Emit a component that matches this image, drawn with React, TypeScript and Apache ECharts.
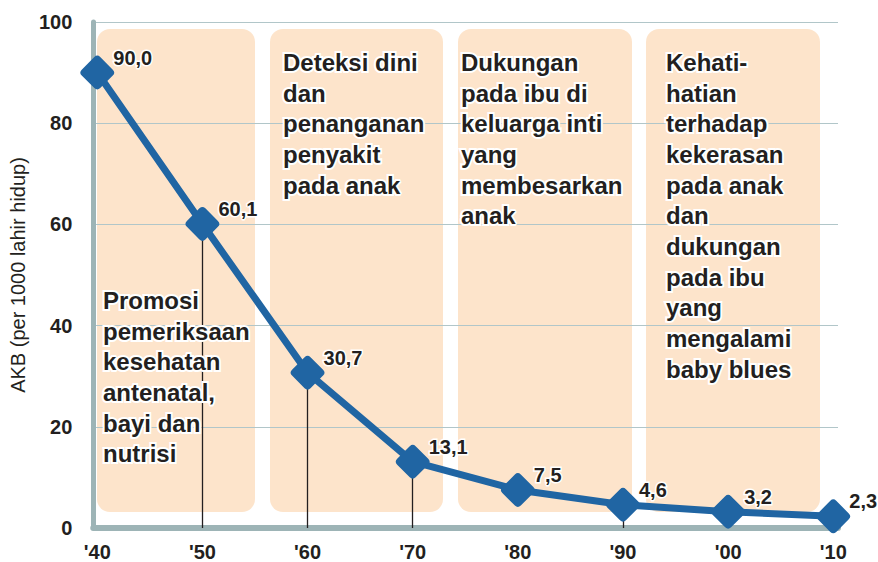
import React, { useEffect, useRef } from "react";
import * as echarts from "echarts";

const years = [1940, 1950, 1960, 1970, 1980, 1990, 2000, 2010];
const akb = [90.0, 60.1, 30.7, 13.1, 7.5, 4.6, 3.2, 2.3];
const xTickLabels = ["'40", "'50", "'60", "'70", "'80", "'90", "'00", "'10"];
const yTicks = [0, 20, 40, 60, 80, 100];
const dropYears = [1950, 1960, 1970, 1990];
const yAxisName = "AKB (per 1000 lahir hidup)";

const panelTexts = [
  "Promosi\npemeriksaan\nkesehatan\nantenatal,\nbayi dan\nnutrisi",
  "Deteksi dini\ndan\npenanganan\npenyakit\npada anak",
  "Dukungan\npada ibu di\nkeluarga inti\nyang\nmembesarkan\nanak",
  "Kehati-\nhatian\nterhadap\nkekerasan\npada anak\ndan\ndukungan\npada ibu\nyang\nmengalami\nbaby blues",
];

const FONT = "Liberation Sans, Arial, sans-serif";
const TEXT = "#231f20";
const BLUE = "#2065a3";
const AXIS = "#9db4b6";
const GRID = "#b1c6c9";
const PANEL = "#fde4cb";

// layout of the decorative panels (pixels)
const panelBoxes = [
  { x: 97, w: 158 },
  { x: 270, w: 173 },
  { x: 458, w: 174 },
  { x: 646, w: 174 },
];
const panelTextPos = [
  { x: 103, y: 285 },
  { x: 283, y: 47 },
  { x: 461, y: 47 },
  { x: 666, y: 47 },
];

const diamond =
  "path://M42 8 Q50 0 58 8 L92 42 Q100 50 92 58 L58 92 Q50 100 42 92 L8 58 Q0 50 8 42 Z";

export default function App() {
  const ref = useRef<HTMLDivElement>(null);
  useEffect(() => {
    if (!ref.current) return;
    const chart = echarts.init(ref.current, undefined, { renderer: "svg" });
    const graphic: any[] = [];
    panelBoxes.forEach((p) => {
      graphic.push({
        type: "rect",
        z: -5,
        silent: true,
        shape: { x: p.x, y: 29, width: p.w, height: 483, r: 13 },
        style: { fill: PANEL },
      });
    });
    panelTexts.forEach((t, i) => {
      graphic.push({
        type: "text",
        z: 50,
        silent: true,
        x: panelTextPos[i].x,
        y: panelTextPos[i].y,
        style: {
          text: t,
          fill: TEXT,
          stroke: "#ffffff",
          lineWidth: 4,
          fontSize: 24,
          fontWeight: "bold",
          fontFamily: FONT,
          lineHeight: 30.7,
          verticalAlign: "top",
          align: "left",
        },
      });
    });
    chart.setOption({
      animation: false,
      backgroundColor: "#ffffff",
      grid: { left: 93, right: 40, top: 22, bottom: 33, containLabel: false },
      graphic,
      xAxis: {
        type: "value",
        min: 1939.62,
        max: 2010.45,
        axisLine: { show: true, lineStyle: { color: AXIS, width: 6 } },
        axisTick: { show: false },
        splitLine: { show: false },
        axisLabel: {
          customValues: years,
          formatter: (v: number) => xTickLabels[years.indexOf(Math.round(v))] ?? "",
          color: TEXT,
          fontSize: 20,
          fontWeight: "bold",
          fontFamily: FONT,
          margin: 14,
        },
      },
      yAxis: {
        type: "value",
        min: 0,
        max: 100,
        interval: 20,
        name: yAxisName,
        nameLocation: "middle",
        nameGap: 64,
        nameTextStyle: { color: TEXT, fontSize: 20, fontFamily: FONT },
        axisLine: { show: true, lineStyle: { color: AXIS, width: 5 } },
        axisTick: { show: false },
        splitLine: { show: true, lineStyle: { color: GRID, width: 1 } },
        axisLabel: {
          formatter: (v: number) => (yTicks.includes(v) ? String(v) : ""),
          color: TEXT,
          fontSize: 20,
          fontWeight: "bold",
          fontFamily: FONT,
          margin: 21,
        },
      },
      series: [
        {
          type: "line",
          z: 1,
          data: [],
          silent: true,
          markLine: {
            silent: true,
            symbol: "none",
            label: { show: false },
            lineStyle: { color: TEXT, width: 1.3, type: "solid" },
            data: dropYears.map((y) => [
              { coord: [y, akb[years.indexOf(y)]] },
              { coord: [y, 0] },
            ]),
          },
        },
        {
          type: "line",
          z: 10,
          data: years.map((y, i) => [y, akb[i]]),
          lineStyle: { color: BLUE, width: 7 },
          itemStyle: { color: BLUE },
          symbol: diamond,
          symbolSize: 34,
          showAllSymbol: true,
          label: {
            show: true,
            position: "right",
            distance: 0,
            offset: [-1, -15],
            formatter: (p: any) => akb[p.dataIndex].toFixed(1).replace(".", ","),
            color: TEXT,
            fontSize: 20,
            fontWeight: "bold",
            fontFamily: FONT,
            textBorderColor: "#ffffff",
            textBorderWidth: 3,
          },
        },
      ],
    });
    return () => chart.dispose();
  }, []);
  return (
    <div
      ref={ref}
      style={{ position: "fixed", left: 0, top: 0, width: 878, height: 562 }}
    />
  );
}
